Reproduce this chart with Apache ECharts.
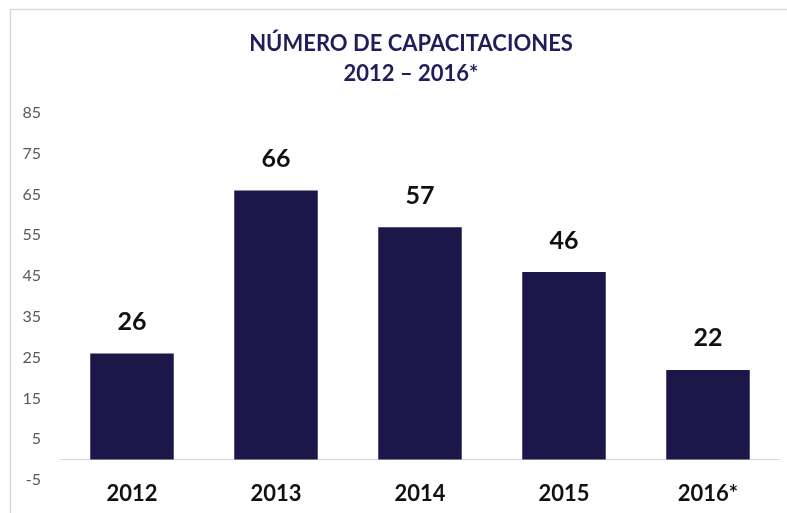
<!DOCTYPE html>
<html>
<head>
<meta charset="utf-8">
<script src="https://cdn.jsdelivr.net/npm/echarts@6/dist/echarts.min.js"></script>
<style>
	html, body { margin: 0; padding: 0; background: #fff; }
	#chart { width: 787px; height: 513px; }
</style>
</head>
<body>
<div id="chart"></div>
<script>
// años
const years = ["2012", "2013", "2014", "2015", "2016*"];
// número de capacitaciones
const capacitaciones = [26, 66, 57, 46, 22];
// eje Y
const yMin = -5;
const yMax = 85;
const yStep = 10;

const myChart = echarts.init(document.getElementById("chart"));
myChart.setOption({
	backgroundColor: "#ffffff",
	// marco gris
	graphic: [{
		type: "rect",
		shape: { x: 10.5, y: 9.5, width: 820, height: 560 },
		style: { fill: "none", stroke: "#d9d9d9", lineWidth: 1.5 },
		silent: true,
	}],
	title: {
		text: "NÚMERO DE CAPACITACIONES\n2012 – 2016*",
		left: 406,
		top: 24,
		textAlign: "center",
		textStyle: {
			color: "#1f1d5a",
			fontFamily: "Lato",
			fontWeight: "bold",
			fontSize: 22,
			lineHeight: 30,
		},
	},
	grid: { left: 60, right: 7, top: 113, bottom: 33, outerBoundsMode: "none" },
	xAxis: {
		type: "category",
		data: years,
		axisLine: { show: true, onZero: true, lineStyle: { color: "#d9d9d9", width: 1 } },
		axisTick: { show: false },
		axisLabel: {
			color: "#111111",
			fontFamily: "Lato",
			fontWeight: "bold",
			fontSize: 22,
			margin: 3,
		},
	},
	yAxis: {
		type: "value",
		min: yMin,
		max: yMax,
		interval: yStep,
		splitLine: { show: false },
		axisLine: { show: false },
		axisTick: { show: false },
		axisLabel: {
			color: "#595959",
			fontFamily: "Lato",
			fontSize: 16,
			margin: 19,
		},
	},
	series: [{
		type: "bar",
		data: capacitaciones,
		barWidth: "58%",
		itemStyle: { color: "#1b1849" },
		label: {
			show: true,
			position: "top",
			distance: 19,
			color: "#111111",
			fontFamily: "Lato",
			fontWeight: "bold",
			fontSize: 25,
		},
	}],
});
</script>
</body>
</html>
